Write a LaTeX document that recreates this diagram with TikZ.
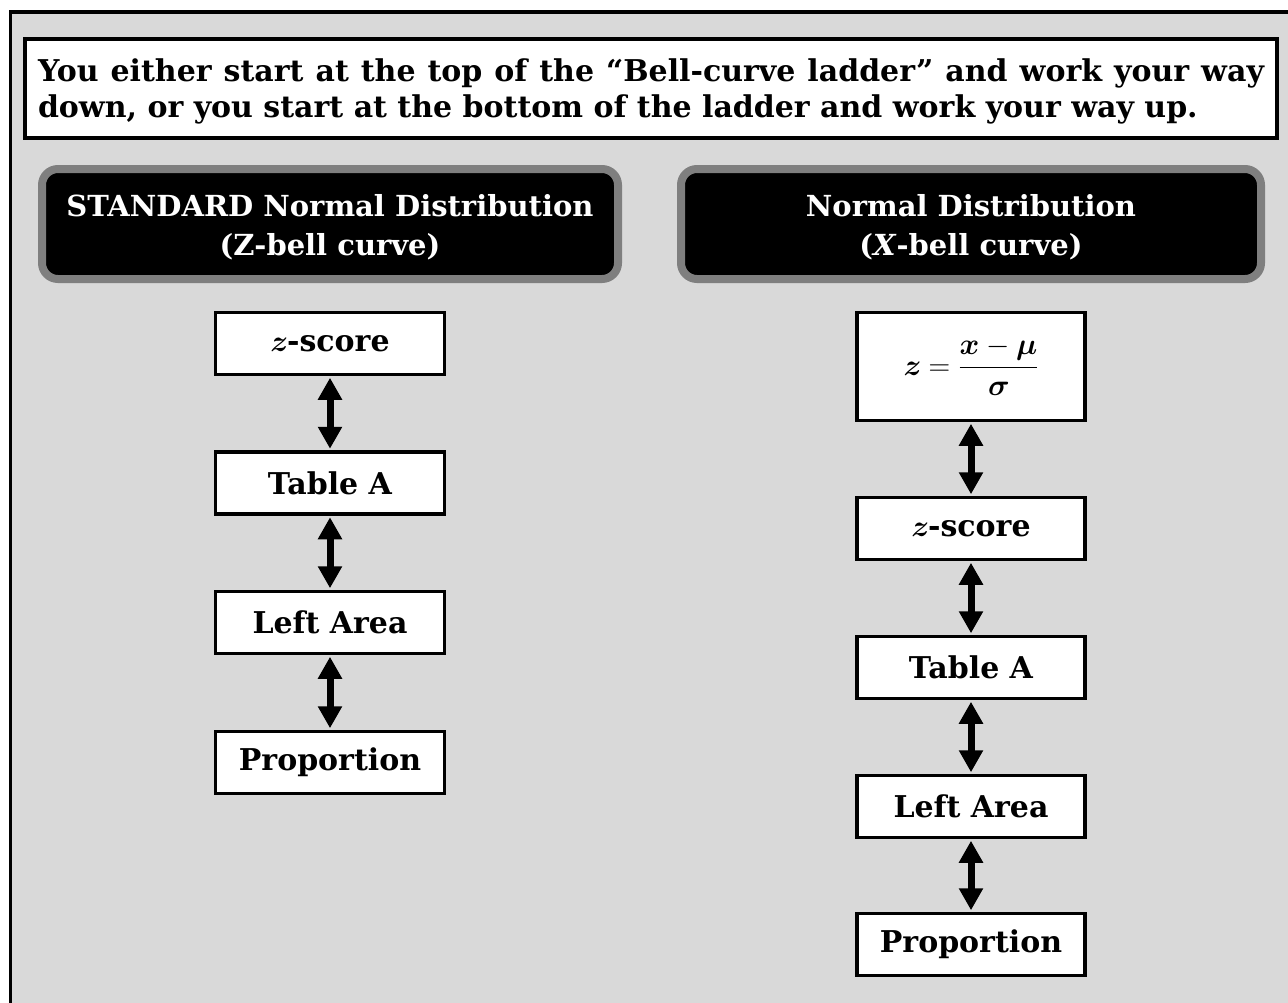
\RequirePackage{fix-cm}
\documentclass[tikz,border=0pt]{standalone}
\usepackage{amsmath}
\usepackage{fontspec}
\setmainfont{DejaVu Serif}
\usetikzlibrary{arrows.meta}
\definecolor{bggray}{HTML}{D9D9D9}
\definecolor{rimgray}{HTML}{7F7F7F}
\newcommand{\mbi}[1]{\mbox{\usefont{OML}{cmm}{b}{it}#1}}
\newsavebox{\formulabox}
\begin{document}
\sbox{\formulabox}{\fontsize{30}{36}\selectfont$\displaystyle \mbi{z}=\frac{\mbi{x}-\mbi{\char"16}}{\mbi{\char"1B}}$}%
\begin{tikzpicture}[x=1pt,y=-1pt,
  txt/.style={font=\fontsize{30}{36}\selectfont\bfseries},
  header/.style={draw=rimgray, line width=8pt, fill=black, rounded corners=16pt},
  headtext/.style={font=\fontsize{29}{39}\selectfont\bfseries, text=white, align=center},
  ladderbox/.style={draw=black, line width=3.5pt, fill=white, minimum width=229pt, minimum height=62pt, inner sep=0pt, txt},
  twoway/.style={line width=7pt, {Triangle[width=23pt,length=22pt]}-{Triangle[width=23pt,length=22pt]}, shorten <=1.5pt, shorten >=1.5pt}
]
\useasboundingbox (0,0) rectangle (1288,1002);
\fill[white] (0,0) rectangle (1288,1002);
\fill[bggray] (10,11) rectangle (1300,1015);
\draw[line width=3.5pt] (10.5,1015) -- (10.5,11.75) -- (1300,11.75);
% top note
\node[draw=black, line width=4pt, fill=white, minimum width=1252pt, minimum height=99pt, inner sep=0pt] (note) at (651,88.5) {};
\node[txt, text width=1226pt, align=justify, inner sep=0pt] (notetext) at ([yshift=-3pt]note.center) {You either start at the top of the “Bell-curve ladder” and work your way\linebreak down, or you start at the bottom of the ladder and work your way up.};
% headers
\node[header, minimum width=576pt, minimum height=110pt, inner sep=0pt] (hleft) at (330,224) {};
\node[headtext] (hlefttext) at ([yshift=-3pt]hleft.center) {STANDARD Normal Distribution\\(Z-bell curve)};
\node[header, minimum width=580pt, minimum height=110pt, inner sep=0pt] (hright) at (971,224) {};
\node[headtext] (hrighttext) at ([yshift=-3pt]hright.center) {Normal Distribution\\(\textit{X}-bell curve)};
% left ladder
\node[ladderbox] (lz) at (330,343.5) {\mbi{z}-score};
\node[ladderbox] (lt) at (330,483) {Table A};
\node[ladderbox] (ll) at (330,622.5) {Left Area};
\node[ladderbox] (lp) at (330,762.5) {Proportion};
\draw[twoway] (lz.south) -- (lt.north);
\draw[twoway] (lt.south) -- (ll.north);
\draw[twoway] (ll.south) -- (lp.north);
% right ladder
\node[ladderbox, minimum width=228pt, minimum height=108pt] (rf) at (971,366.5) {\usebox{\formulabox}};
\node[ladderbox, minimum width=228pt] (rz) at (971,528.5) {\mbi{z}-score};
\node[ladderbox, minimum width=228pt] (rt) at (971,667.5) {Table A};
\node[ladderbox, minimum width=228pt] (rl) at (971,806.5) {Left Area};
\node[ladderbox, minimum width=228pt] (rp) at (971,944.5) {Proportion};
\draw[twoway] (rf.south) -- (rz.north);
\draw[twoway] (rz.south) -- (rt.north);
\draw[twoway] (rt.south) -- (rl.north);
\draw[twoway] (rl.south) -- (rp.north);
\end{tikzpicture}
\end{document}
